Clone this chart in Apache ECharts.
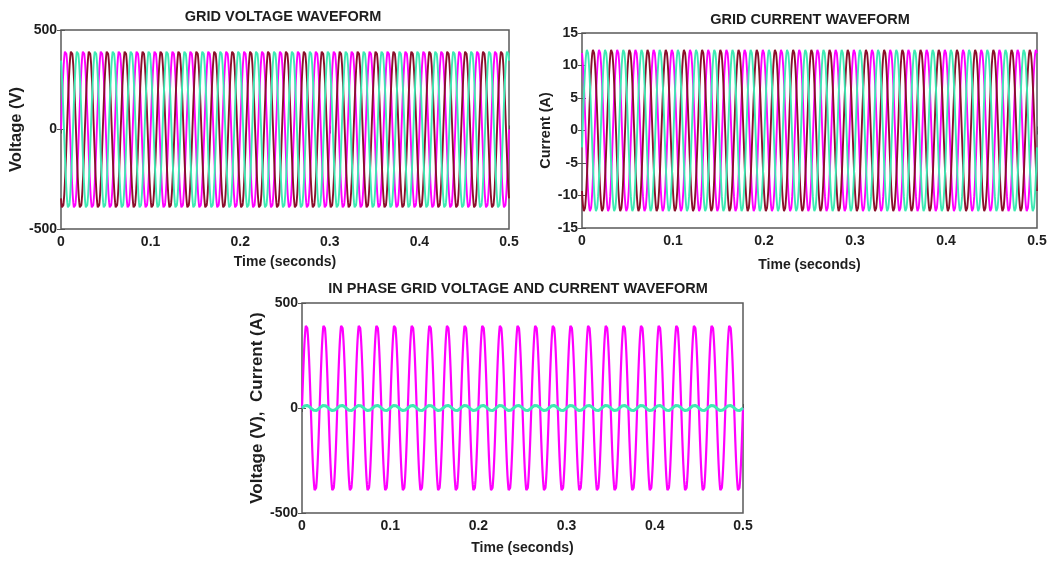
<!DOCTYPE html>
<html>
<head>
<meta charset="utf-8">
<script src="https://cdn.jsdelivr.net/npm/echarts@6/dist/echarts.min.js"></script>
<style>
html,body{margin:0;padding:0;background:#fff;}
#chart{width:1063px;height:563px;}
</style>
</head>
<body>
<div id="chart"></div>
<script>
// ---- data ----
const TITLES = ['GRID VOLTAGE WAVEFORM', 'GRID CURRENT WAVEFORM', 'IN PHASE GRID VOLTAGE AND CURRENT WAVEFORM'];
const Y_NAMES = ['Voltage (V)', 'Current (A)', 'Voltage (V),  Current (A)'];
const X_NAME = 'Time (seconds)';
const X_TICKS = [0, 0.1, 0.2, 0.3, 0.4, 0.5];
const VOLT_TICKS = [-500, 0, 500];
const CURR_TICKS = [-15, -10, -5, 0, 5, 10, 15];

// one 50 Hz cycle (0.02 s) of the grid voltage, 60 samples, peak ~400 V
const VOLT_CYCLE = [0,42,83,124,163,200,235,268,297,324,346,365,380,391,398,400,398,391,380,365,346,324,297,268,235,200,163,124,83,42,
  0,-42,-83,-124,-163,-200,-235,-268,-297,-324,-346,-365,-380,-391,-398,-400,-398,-391,-380,-365,-346,-324,-297,-268,-235,-200,-163,-124,-83,-42];
// one cycle of the grid current, 60 samples, peak ~12.5 A
const CURR_CYCLE = [0,1.3,2.6,3.9,5.1,6.3,7.3,8.4,9.3,10.1,10.8,11.4,11.9,12.2,12.4,12.5,12.4,12.2,11.9,11.4,10.8,10.1,9.3,8.4,7.3,6.3,5.1,3.9,2.6,1.3,
  0,-1.3,-2.6,-3.9,-5.1,-6.3,-7.3,-8.4,-9.3,-10.1,-10.8,-11.4,-11.9,-12.2,-12.4,-12.5,-12.4,-12.2,-11.9,-11.4,-10.8,-10.1,-9.3,-8.4,-7.3,-6.3,-5.1,-3.9,-2.6,-1.3];
const PERIOD = 0.02;          // s
const CYCLES = 25;            // cycles shown in 0..0.5 s
// phase lags, in samples of a 60-sample cycle (20 samples = 120 deg)
const VOLT_LAGS = [0, 20, 40];   // magenta, maroon, aquamarine
const CURR_LAGS = [42, 22, 2];   // magenta, maroon, aquamarine
const PHASE_COLORS = ['#ff00ff', '#8a0f2c', '#3eeab4'];

function wave(cycle, lag) {
  const n = cycle.length, out = [];
  for (let i = 0; i <= n * CYCLES; i++) {
    const k = ((i - lag) % n + n) % n;
    out.push([+(i * PERIOD / n).toFixed(6), cycle[k]]);
  }
  return out;
}

const chart = echarts.init(document.getElementById('chart'));
const FONT = '"Liberation Sans", Arial, sans-serif';
const TXT = '#1e1e1e';
const grids = [
  {left: 61, top: 30, width: 448, height: 199},
  {left: 582, top: 33, width: 455, height: 195},
  {left: 302, top: 303, width: 441, height: 210}
];
const yRanges = [
  {min: -500, max: 500, interval: 500},
  {min: -15, max: 15, interval: 5},
  {min: -500, max: 500, interval: 500}
];
const yGaps = [31, 25, 24];
const yNameSizes = [16.5, 14.5, 17];
const xGaps = [26, 30, 28];

const xAxis = [], yAxis = [];
grids.forEach((g, gi) => {
  xAxis.push({
    gridIndex: gi, type: 'value', min: X_TICKS[0], max: X_TICKS[X_TICKS.length - 1], interval: 0.1,
    name: X_NAME, nameLocation: 'middle', nameGap: xGaps[gi],
    nameTextStyle: {fontFamily: FONT, fontWeight: 'bold', fontSize: 14, color: TXT},
    axisLine: {show: false}, splitLine: {show: false},
    axisTick: {show: true, inside: true, length: 4, lineStyle: {color: '#555'}},
    axisLabel: {fontFamily: FONT, fontWeight: 'bold', fontSize: 14, color: TXT, margin: 6}
  });
  xAxis.push({
    gridIndex: gi, type: 'value', position: 'top', min: X_TICKS[0], max: X_TICKS[X_TICKS.length - 1], interval: 0.1,
    axisLine: {show: false}, splitLine: {show: false}, axisLabel: {show: false},
    axisTick: {show: true, inside: true, length: 4, lineStyle: {color: '#555'}}
  });
  const r = yRanges[gi];
  yAxis.push({
    gridIndex: gi, type: 'value', min: r.min, max: r.max, interval: r.interval,
    name: Y_NAMES[gi], nameLocation: 'middle', nameGap: yGaps[gi],
    nameTextStyle: {fontFamily: FONT, fontWeight: 'bold', fontSize: yNameSizes[gi], color: TXT},
    axisLine: {show: false}, splitLine: {show: false},
    axisTick: {show: true, inside: true, length: 4, lineStyle: {color: '#555'}},
    axisLabel: {fontFamily: FONT, fontWeight: 'bold', fontSize: 14, color: TXT, margin: 4}
  });
  yAxis.push({
    gridIndex: gi, type: 'value', position: 'right', min: r.min, max: r.max, interval: r.interval,
    axisLine: {show: false}, splitLine: {show: false}, axisLabel: {show: false},
    axisTick: {show: true, inside: true, length: 4, lineStyle: {color: '#555'}}
  });
});

const series = [];
function addLine(gi, data, color, width) {
  series.push({
    type: 'line', xAxisIndex: 2 * gi, yAxisIndex: 2 * gi, data: data,
    showSymbol: false, symbol: 'none', smooth: false, animation: false, silent: true,
    lineStyle: {color: color, width: width}
  });
}
VOLT_LAGS.forEach((lag, p) => addLine(0, wave(VOLT_CYCLE, lag), PHASE_COLORS[p], 1.9));
CURR_LAGS.forEach((lag, p) => addLine(1, wave(CURR_CYCLE, lag), PHASE_COLORS[p], 1.9));
addLine(2, wave(VOLT_CYCLE, 0), PHASE_COLORS[0], 2.2);
addLine(2, wave(CURR_CYCLE, 0), PHASE_COLORS[2], 3);

const titleCenters = [[283, 9], [810, 12], [518, 281]];
chart.setOption({
  backgroundColor: '#fff',
  animation: false,
  title: TITLES.map((t, i) => ({
    text: t, left: titleCenters[i][0], top: titleCenters[i][1], textAlign: 'center', padding: 0,
    textStyle: {fontFamily: FONT, fontWeight: 'bold', fontSize: 14.5, color: TXT}
  })),
  grid: grids.map(g => Object.assign({show: true, borderColor: '#5a5a5a', borderWidth: 1.5, backgroundColor: '#fff', containLabel: false}, g)),
  xAxis: xAxis,
  yAxis: yAxis,
  series: series
});
</script>
</body>
</html>
